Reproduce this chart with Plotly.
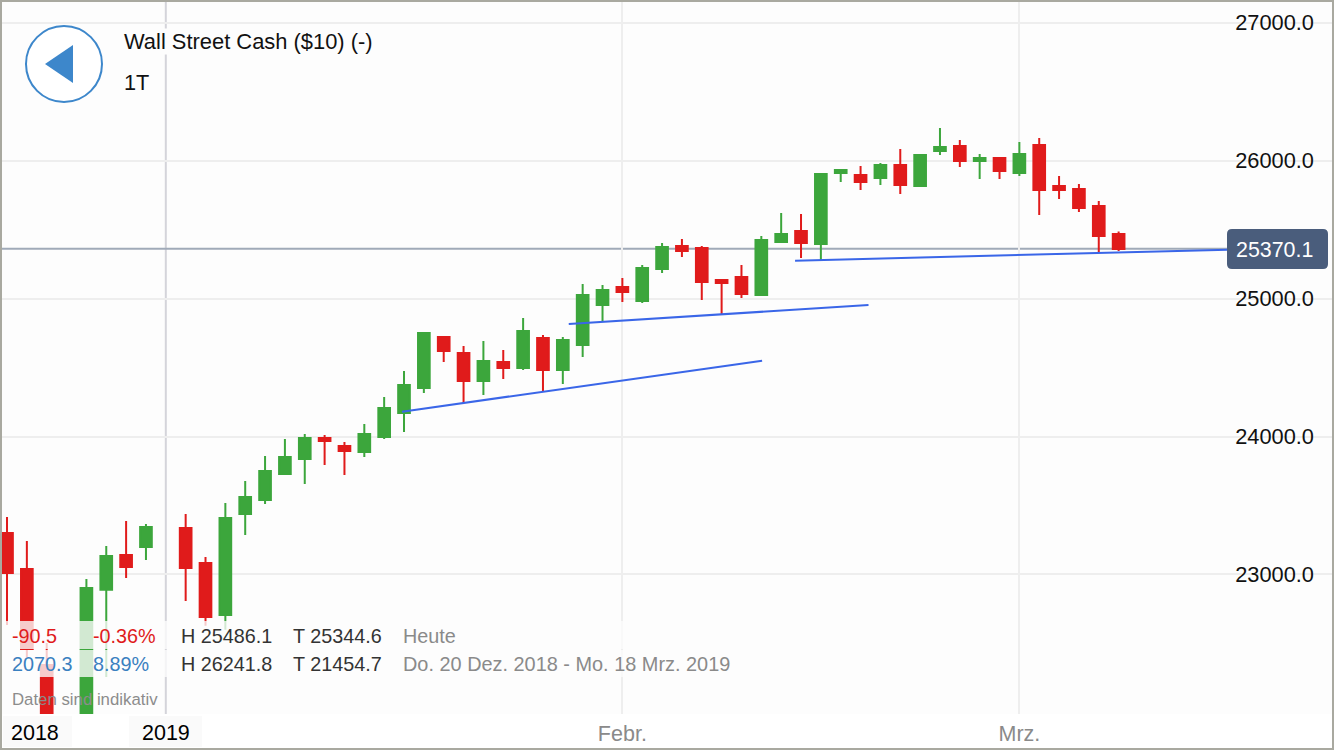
import pandas as pd
import plotly.graph_objects as go

# weekdays on the axis, the two closed days stay as gaps
axis_days = [d.strftime("%Y-%m-%d") for d in pd.bdate_range("2018-12-20", "2019-03-08")]
closed_days = ["2018-12-25", "2019-01-01"]
days = [d for d in axis_days if d not in closed_days]

open_ = [23301, 23040, 22344, 21836, 22888, 23141, 23199, 23337, 23083, 22706, 23439, 23540, 23729, 23837,
         23990, 23932, 23888, 23997, 24171, 24352, 24722, 24606, 24403, 24541, 24497, 24715, 24483, 24664,
         24954, 25084, 24983, 25215, 25381, 25367, 25135, 25157, 25026, 25411, 25490, 25396, 25911, 25896,
         25875, 25969, 25817, 26070, 26107, 25998, 26020, 25911, 26114, 25817, 25795, 25671, 25469]
high = [23417, 23243, 22503, 22967, 23207, 23388, 23366, 23439, 23127, 23518, 23678, 23859, 23982, 24019,
        24011, 23961, 24091, 24287, 24475, 24758, 24722, 24657, 24693, 24628, 24860, 24736, 24722, 25106,
        25099, 25150, 25244, 25403, 25432, 25381, 25142, 25244, 25454, 25621, 25614, 25911, 25933, 25962,
        25983, 26085, 26049, 26237, 26150, 26049, 26020, 26135, 26165, 25889, 25831, 25708, 25486]
low = [22634, 22402, 21800, 21764, 22257, 22975, 23105, 22808, 22627, 22598, 23286, 23511, 23721, 23656,
       23794, 23721, 23852, 23982, 24033, 24316, 24541, 24243, 24301, 24417, 24483, 24323, 24381, 24577,
       24838, 24975, 24968, 25186, 25302, 24990, 24889, 25005, 25019, 25403, 25295, 25273, 25845, 25788,
       25824, 25759, 25809, 26041, 25954, 25867, 25867, 25889, 25606, 25722, 25628, 25338, 25345]
close = [23011, 22460, 21909, 22902, 23134, 23054, 23344, 23047, 22692, 23410, 23562, 23750, 23852, 23990,
         23968, 23895, 24019, 24207, 24374, 24751, 24620, 24403, 24548, 24497, 24765, 24483, 24700, 25026,
         25062, 25048, 25222, 25374, 25345, 25121, 25113, 25034, 25425, 25469, 25403, 25904, 25933, 25845,
         25969, 25824, 26041, 26099, 25998, 26020, 25925, 26049, 25787, 25787, 25657, 25454, 25360]

price_ticks = [23000, 24000, 25000, 26000, 27000]
month_ticks = ["2019-02-01", "2019-03-01"]
month_labels = ["Febr.", "Mrz."]

# trend lines: axis position and price at each end
trend_x0 = [19.9, 28.3, 39.7]
trend_y0 = [24180, 24815, 25275]
trend_x1 = [38.04, 43.4, 61.5]
trend_y1 = [24550, 24954, 25355]

price_line = 25362
price_label = "25370.1"

W, H = 1334, 750
PLOT_H = 714
FONT = "Liberation Sans"
RED, GREEN, BLUE = "#e01b1b", "#3ca63c", "#3a66e8"


def px(x):
    return x / W


def py(y):
    return 1 - y / PLOT_H


def note(x, y, text, size=19.8, color="#333333", anchor="left", bg=None):
    return dict(xref="paper", yref="paper", x=px(x), y=py(y), text=text, showarrow=False,
                xanchor=anchor, yanchor="middle", bgcolor=bg, borderpad=0,
                font=dict(family=FONT, size=size, color=color))


def box(x0, y0, x1, y1, **kw):
    return dict(type="rect", xref="paper", yref="paper", x0=px(x0), x1=px(x1), y0=py(y0), y1=py(y1), **kw)


fig = go.Figure(go.Candlestick(
    x=days, open=open_, high=high, low=low, close=close,
    increasing=dict(line=dict(color=GREEN, width=2), fillcolor=GREEN),
    decreasing=dict(line=dict(color=RED, width=2), fillcolor=RED),
    hoverinfo="skip", showlegend=False,
))

shapes = [
    dict(type="line", xref="x", yref="paper", x0="2019-01-01", x1="2019-01-01", y0=0, y1=1,
         line=dict(color="#d4d4da", width=2), layer="below"),
    dict(type="line", xref="x", yref="y", x0=-0.35, x1=61.5, y0=price_line, y1=price_line,
         line=dict(color="#a0aab8", width=2), layer="below"),
]
for i in range(3):
    shapes.append(dict(type="line", xref="x", yref="y", x0=trend_x0[i], x1=trend_x1[i],
                       y0=trend_y0[i], y1=trend_y1[i], line=dict(color=BLUE, width=2)))

# table rows fade what is under them
shapes.append(box(0, 621, 740, 649, fillcolor="rgba(253,253,253,0.78)", line_width=0))
shapes.append(box(0, 650, 740, 677, fillcolor="rgba(253,253,253,0.78)", line_width=0))

# year label plates under the chart
shapes.append(box(3, 716, 72, 747, fillcolor="#fafafa", line_width=0))
shapes.append(box(129, 716, 202, 747, fillcolor="#fafafa", line_width=0))

# back button
shapes.append(dict(type="circle", xref="paper", yref="paper", x0=px(26), x1=px(102), y0=py(102), y1=py(26),
                   fillcolor="white", line=dict(color="#3d87cb", width=2)))
shapes.append(dict(type="path", xref="paper", yref="paper", fillcolor="#3d87cb", line_width=0,
                   path=f"M {px(45)} {py(64)} L {px(73)} {py(45)} L {px(73)} {py(83)} Z"))

# price tag with rounded corners
l, r, t, b, c = 1227, 1328, 229, 269, 5
shapes.append(dict(type="path", xref="paper", yref="paper", fillcolor="#4a5d7c", line_width=0,
                   path=(f"M {px(l+c)} {py(t)} L {px(r-c)} {py(t)} Q {px(r)} {py(t)} {px(r)} {py(t+c)} "
                         f"L {px(r)} {py(b-c)} Q {px(r)} {py(b)} {px(r-c)} {py(b)} "
                         f"L {px(l+c)} {py(b)} Q {px(l)} {py(b)} {px(l)} {py(b-c)} "
                         f"L {px(l)} {py(t+c)} Q {px(l)} {py(t)} {px(l+c)} {py(t)} Z")))

# window frame
shapes.append(box(1, 1, W - 1, H - 1, line=dict(color="#a9a9a0", width=2), fillcolor="rgba(0,0,0,0)"))

annotations = [
    note(123, 41, "Wall Street Cash ($10) (-)", size=21.9, color="#111111", bg="#fdfdfd"),
    note(123, 82, "1T", size=21.7, color="#111111"),
    note(11, 636, "-90.5", color=RED),
    note(92, 636, "-0.36%", color=RED),
    note(180, 636, "H 25486.1"),
    note(292, 636, "T 25344.6"),
    note(402, 636, "Heute", color="#8a8a8a"),
    note(11, 664, "2070.3", color="#3a80c0"),
    note(92, 664, "8.89%", color="#3a80c0"),
    note(180, 664, "H 26241.8"),
    note(292, 664, "T 21454.7"),
    note(402, 664, "Do. 20 Dez. 2018 - Mo. 18 Mrz. 2019", size=19.9, color="#8a8a8a"),
    note(11, 699, "Daten sind indikativ", size=16.8, color="#8c8c8c"),
    note(35, 733, "2018", size=21.5, color="#000000", anchor="center"),
    note(166, 733, "2019", size=21.5, color="#000000", anchor="center"),
    note(1274, 250, price_label, size=21.4, color="white", anchor="center"),
]

fig.update_layout(
    width=W, height=H, margin=dict(l=0, r=0, t=0, b=H - PLOT_H, pad=0),
    paper_bgcolor="white", plot_bgcolor="#fdfdfd",
    boxgap=0.16, showlegend=False, shapes=shapes, annotations=annotations,
    font=dict(family=FONT),
)
fig.update_xaxes(
    type="category", categoryorder="array", categoryarray=axis_days,
    range=[-0.353, 66.85], rangeslider_visible=False,
    tickmode="array", tickvals=month_ticks, ticktext=month_labels,
    tickfont=dict(size=21.5, color="#8a8a8a"), ticks="", showgrid=True, ticklabelstandoff=4,
    gridcolor="#eeeeee", gridwidth=2, showline=False, zeroline=False,
)
fig.update_yaxes(
    side="right", range=[21988, 27165], tickmode="array", tickvals=price_ticks,
    tickformat=".1f", ticklabelposition="inside", ticklabelstandoff=17,
    tickfont=dict(size=21.8, color="#111111"), ticks="", showgrid=True,
    gridcolor="#eeeeee", gridwidth=2, showline=False, zeroline=False,
)

# the page's default body margin would push the figure off its 1334x750 frame
fig.write_html("out.html", config={"displayModeBar": False},
               post_script="document.body.style.margin='0';")
